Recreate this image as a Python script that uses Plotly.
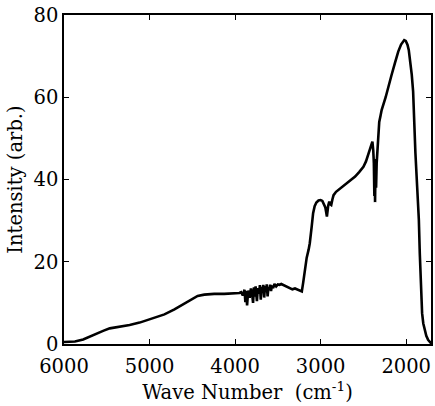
import plotly.graph_objects as go

wavenumber = [6000, 5988, 5872, 5776, 5659, 5543, 5465, 5349, 5233, 5116, 5000, 4903, 4826, 4709, 4593,
              4515, 4438, 4360, 4244, 4128, 4012, 3970,
              3950, 3930, 3910, 3890, 3880, 3870, 3860, 3850, 3840, 3830, 3815, 3800, 3790, 3780, 3770, 3760,
              3745, 3735, 3720, 3710, 3700, 3690, 3680, 3670, 3660, 3650, 3640, 3630, 3620, 3610, 3600, 3590,
              3580, 3570, 3555, 3540, 3520, 3500, 3480, 3460, 3440, 3400, 3360, 3330, 3300, 3270, 3240, 3220,
              3205, 3185, 3163, 3140, 3127, 3105, 3088, 3070, 3050, 3025, 3000, 2980, 2965, 2945, 2935, 2927,
              2912, 2899, 2888, 2876, 2862, 2849, 2820, 2791, 2750, 2713, 2660, 2597, 2550, 2500, 2470, 2442,
              2420, 2405, 2395, 2385, 2378, 2372, 2368, 2364, 2358, 2352, 2345, 2330, 2315, 2300, 2287, 2240,
              2209, 2171, 2132, 2093, 2060, 2040, 2023, 2005, 1985, 1970, 1957, 1935, 1919, 1907, 1892, 1872,
              1852, 1841, 1829, 1814, 1800, 1783, 1765, 1744, 1725, 1706]
intensity = [0.5, 0.5, 0.6, 1.1, 2.2, 3.2, 3.8, 4.2, 4.6, 5.2, 6.0, 6.8, 7.2, 8.4, 9.9,
             10.9, 11.7, 12.0, 12.2, 12.2, 12.3, 12.4,
             12.4, 12.6, 11.8, 13.2, 10.2, 12.9, 9.4, 12.1, 13.0, 11.2, 13.5, 12.0, 10.0, 13.8, 11.5, 14.0,
             10.4, 13.6, 12.2, 14.3, 10.8, 13.9, 12.5, 14.4, 11.3, 14.1, 12.6, 14.5, 11.6, 13.8, 13.2, 14.4,
             12.9, 14.2, 13.6, 14.6, 14.0, 14.5, 14.4, 14.6, 14.4, 14.0, 13.6, 13.3, 13.5, 13.2, 12.9, 12.8,
             14.8, 18.4, 21.0, 23.0, 24.5, 28.5, 31.8, 33.5, 34.4, 34.9, 35.0, 34.8, 34.2, 33.2, 32.0, 31.0,
             33.6, 34.6, 34.0, 33.8, 35.2, 36.2, 37.0, 37.5, 38.2, 38.8, 39.7, 40.7, 41.8, 43.1, 44.4, 46.0,
             47.4, 48.5, 49.2, 47.0, 44.0, 36.0, 45.0, 34.5, 44.0, 38.0, 44.0, 50.0, 54.0, 55.5, 56.9, 60.0,
             62.6, 65.4, 68.3, 71.1, 72.8, 73.6, 73.9, 73.7, 72.8, 71.5, 69.5, 65.5, 61.4, 53.3, 46.4, 38.3,
             30.2, 22.0, 13.9, 7.5, 5.0, 3.4, 2.0, 1.0, 0.4, 0.1]

x_ticks = [6000, 5000, 4000, 3000, 2000]
y_ticks = [0, 20, 40, 60, 80]

font_family = "DejaVu Serif"
font_size = 19.5

fig = go.Figure()
fig.add_trace(go.Scatter(x=wavenumber, y=intensity, mode="lines",
                         line=dict(color="black", width=2.6), showlegend=False))

fig.update_layout(
    width=435, height=406,
    margin=dict(l=64, r=2, t=15, b=62),
    plot_bgcolor="white", paper_bgcolor="white",
    font=dict(family=font_family, size=font_size, color="black"),
)
fig.update_xaxes(
    range=[6000, 1710], tickvals=x_ticks, ticktext=[str(v) for v in x_ticks],
    ticks="inside", ticklen=5, tickwidth=1, tickcolor="black",
    ticklabelstandoff=4,
    showline=True, linecolor="black", linewidth=1.5, mirror="ticks",
    showgrid=False, zeroline=False,
    title=dict(text="Wave Number  (cm<sup>-1</sup>)", standoff=6,
               font=dict(family=font_family, size=font_size)),
    tickfont=dict(family=font_family, size=font_size),
)
fig.update_yaxes(
    range=[0, 80], tickvals=y_ticks,
    ticks="inside", ticklen=5, tickwidth=1, tickcolor="black",
    showline=True, linecolor="black", linewidth=1.5, mirror="ticks",
    showgrid=False, zeroline=False,
    title=dict(text="Intensity (arb.)", standoff=6,
               font=dict(family=font_family, size=font_size)),
    tickfont=dict(family=font_family, size=font_size),
)

fig.write_html("out.html")
